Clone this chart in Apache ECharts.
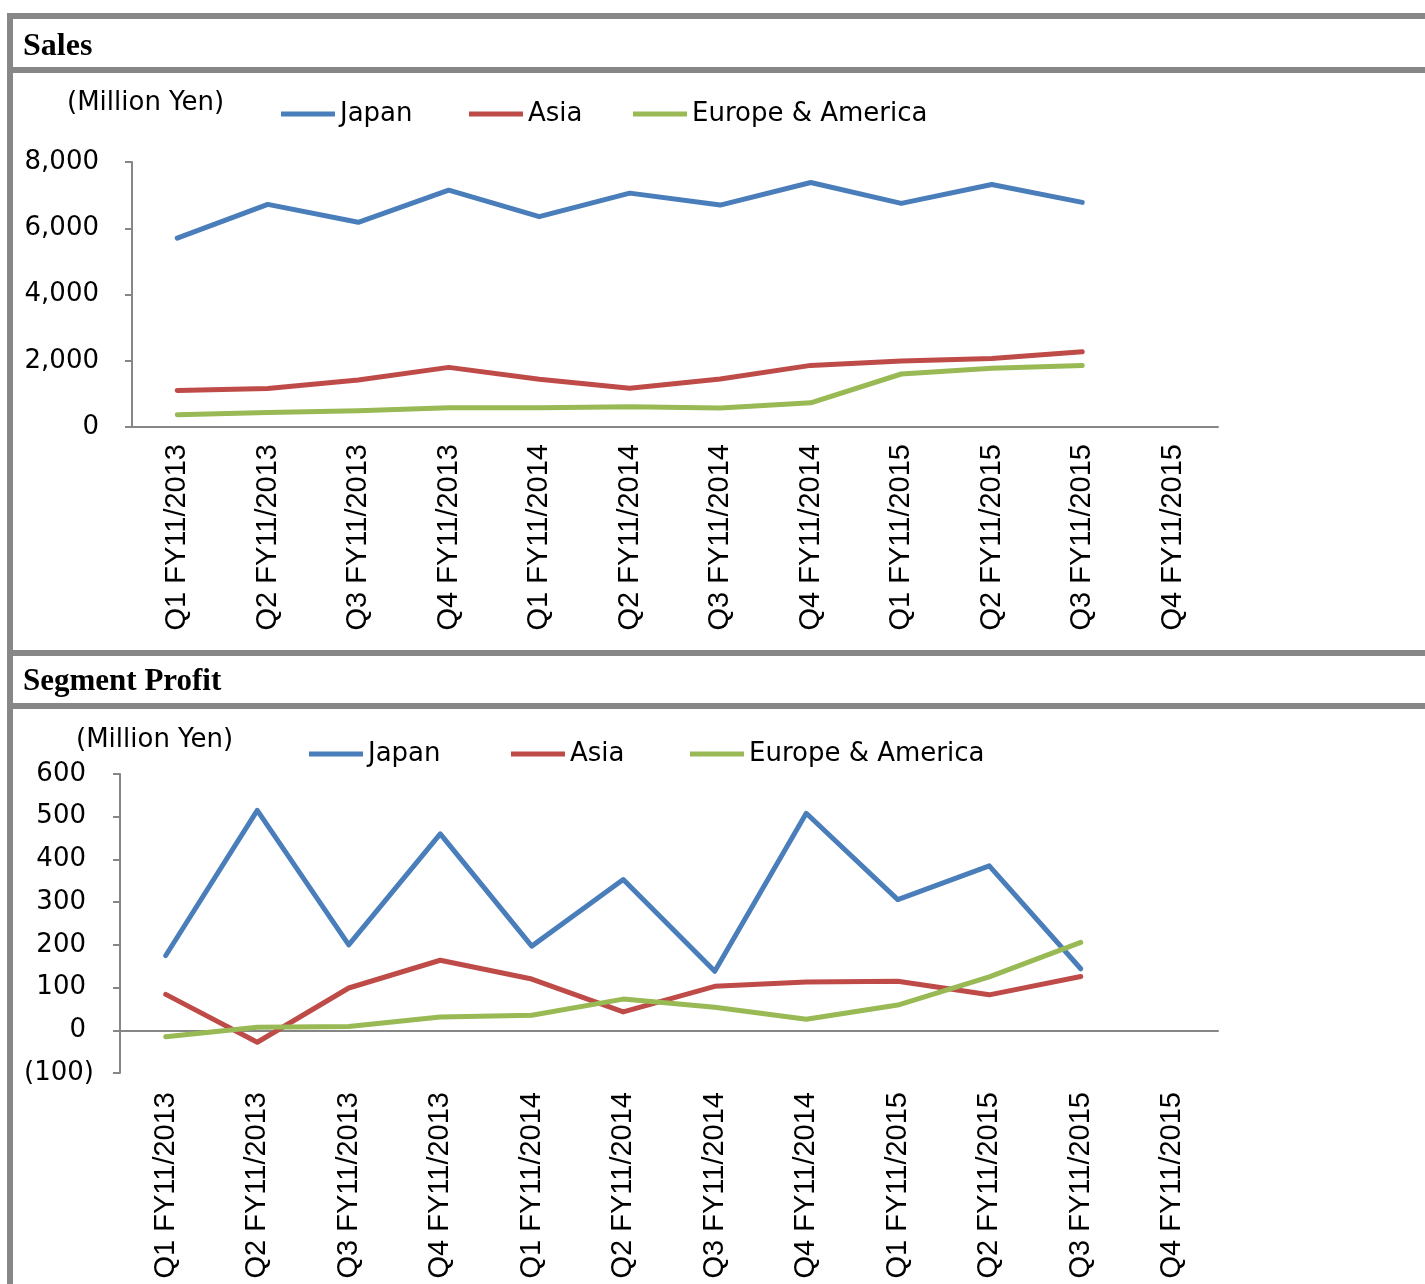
<!DOCTYPE html>
<html>
<head>
<meta charset="utf-8">
<script src="https://cdn.jsdelivr.net/npm/echarts@6/dist/echarts.min.js"></script>
<style>
html, body { margin: 0; padding: 0; background: #fff; }
#main { width: 1425px; height: 1284px; }
</style>
</head>
<body>
<div id="main"></div>
<script>
var categories = ['Q1 FY11/2013', 'Q2 FY11/2013', 'Q3 FY11/2013', 'Q4 FY11/2013',
    'Q1 FY11/2014', 'Q2 FY11/2014', 'Q3 FY11/2014', 'Q4 FY11/2014',
    'Q1 FY11/2015', 'Q2 FY11/2015', 'Q3 FY11/2015', 'Q4 FY11/2015'];
var regions = ['Japan', 'Asia', 'Europe & America'];

// sales (million yen)
var salesJapan = [5700, 6720, 6180, 7150, 6350, 7060, 6700, 7380, 6750, 7320, 6780, null];
var salesAsia = [1100, 1160, 1420, 1800, 1440, 1170, 1450, 1860, 1990, 2070, 2270, null];
var salesEuAm = [370, 440, 490, 580, 580, 610, 570, 730, 1600, 1770, 1860, null];

// segment profit (million yen)
var profitJapan = [175, 515, 200, 460, 197, 353, 138, 508, 306, 385, 144, null];
var profitAsia = [84, -28, 99, 164, 120, 43, 103, 113, 115, 83, 126, null];
var profitEuAm = [-15, 7, 9, 31, 35, 73, 54, 26, 59, 125, 206, null];

var colors = ['#4a7ebb', '#be4b48', '#98b954'];
var axisGray = '#868686';
var frameGray = '#878787';
var sans = 'DejaVu Sans';

function fmt(v) {
    return String(Math.abs(v)).replace(/\B(?=(\d{3})+(?!\d))/g, ',');
}

function lineSeries(name, data, idx, gi) {
    return {
        name: name,
        type: 'line',
        xAxisIndex: gi === 0 ? 0 : 1,
        yAxisIndex: gi,
        data: data,
        symbol: 'none',
        lineStyle: { width: 5, color: colors[idx], cap: 'round', join: 'round' },
        itemStyle: { color: colors[idx] }
    };
}

function oneLegend(name, left, top) {
    return {
        data: [name],
        left: left,
        top: top,
        padding: 0,
        icon: 'rect',
        itemWidth: 54,
        itemHeight: 5,
        textStyle: { fontFamily: sans, fontSize: 26, color: '#000' }
    };
}

var labelStyle = { fontFamily: sans, fontSize: 26, color: '#000' };
var catLabelStyle = { fontFamily: 'Liberation Sans', fontSize: 29, color: '#000' };

var option = {
    animation: false,
    backgroundColor: '#fff',
    textStyle: { fontFamily: sans },
    graphic: [
        // frame bands
        { type: 'rect', shape: { x: 7, y: 13, width: 1418, height: 6 }, style: { fill: frameGray } },
        { type: 'rect', shape: { x: 7, y: 13, width: 6, height: 1271 }, style: { fill: frameGray } },
        { type: 'rect', shape: { x: 7, y: 67, width: 1418, height: 6 }, style: { fill: frameGray } },
        { type: 'rect', shape: { x: 7, y: 650, width: 1418, height: 6 }, style: { fill: frameGray } },
        { type: 'rect', shape: { x: 7, y: 703, width: 1418, height: 6 }, style: { fill: frameGray } },
        // headers
        { type: 'text', style: { text: 'Sales', x: 23, y: 47, verticalAlign: 'middle',
            font: 'bold 32px "Liberation Serif"', fill: '#000' } },
        { type: 'text', style: { text: 'Segment Profit', x: 23, y: 682, verticalAlign: 'middle',
            font: 'bold 31px "Liberation Serif"', fill: '#000' } },
        // unit labels
        { type: 'text', style: { text: '(Million Yen)', x: 67, y: 103, verticalAlign: 'middle',
            font: '26px "DejaVu Sans"', fill: '#000' } },
        { type: 'text', style: { text: '(Million Yen)', x: 76, y: 740, verticalAlign: 'middle',
            font: '26px "DejaVu Sans"', fill: '#000' } }
    ],
    legend: [
        oneLegend(regions[0], 281, 101),
        oneLegend(regions[1], 469, 101),
        oneLegend(regions[2], 633, 101),
        oneLegend(regions[0], 309, 741),
        oneLegend(regions[1], 511, 741),
        oneLegend(regions[2], 690, 741)
    ],
    grid: [
        { left: 132, top: 162, width: 1086, height: 265 },
        { left: 120, top: 774, width: 1098, height: 299 }
    ],
    xAxis: [
        {
            gridIndex: 0, type: 'category', data: categories, boundaryGap: true,
            axisLine: { lineStyle: { color: axisGray, width: 2 } },
            axisTick: { length: 8, lineStyle: { color: axisGray, width: 2 } },
            axisLabel: Object.assign({ rotate: 90, interval: 0, margin: 17 }, catLabelStyle)
        },
        {
            gridIndex: 1, type: 'category', data: categories, boundaryGap: true, position: 'bottom',
            axisLine: { onZero: true, lineStyle: { color: axisGray, width: 2 } },
            axisTick: { length: 8, lineStyle: { color: axisGray, width: 2 } },
            axisLabel: { show: false }
        },
        {
            gridIndex: 1, type: 'category', data: categories, boundaryGap: true, position: 'bottom',
            axisLine: { show: false, onZero: false },
            axisTick: { show: false },
            axisLabel: Object.assign({ rotate: 90, interval: 0, margin: 19 }, catLabelStyle)
        }
    ],
    yAxis: [
        {
            gridIndex: 0, type: 'value', min: 0, max: 8000, interval: 2000,
            axisLine: { show: true, lineStyle: { color: axisGray, width: 2 } },
            axisTick: { show: true, length: 7, lineStyle: { color: axisGray, width: 2 } },
            splitLine: { show: false },
            axisLabel: Object.assign({ margin: 33, formatter: function (v) { return fmt(v); } }, labelStyle)
        },
        {
            gridIndex: 1, type: 'value', min: -100, max: 600, interval: 100,
            axisLine: { show: true, onZero: false, lineStyle: { color: axisGray, width: 2 } },
            axisTick: { show: true, length: 7, lineStyle: { color: axisGray, width: 2 } },
            splitLine: { show: false },
            axisLabel: Object.assign({
                margin: 26,
                formatter: function (v) {
                    return v < 0 ? '(' + fmt(v) + ')' : '{p|' + fmt(v) + '}';
                },
                rich: { p: { fontFamily: sans, fontSize: 26, color: '#000', padding: [0, 8, 0, 0] } }
            }, labelStyle)
        }
    ],
    series: [
        lineSeries(regions[0], salesJapan, 0, 0),
        lineSeries(regions[1], salesAsia, 1, 0),
        lineSeries(regions[2], salesEuAm, 2, 0),
        lineSeries(regions[0], profitJapan, 0, 1),
        lineSeries(regions[1], profitAsia, 1, 1),
        lineSeries(regions[2], profitEuAm, 2, 1),
        // keeps the label-only axis of the lower chart alive
        { type: 'line', xAxisIndex: 2, yAxisIndex: 1, data: [], silent: true }
    ]
};

var myChart = echarts.init(document.getElementById('main'));
myChart.setOption(option);
</script>
</body>
</html>
